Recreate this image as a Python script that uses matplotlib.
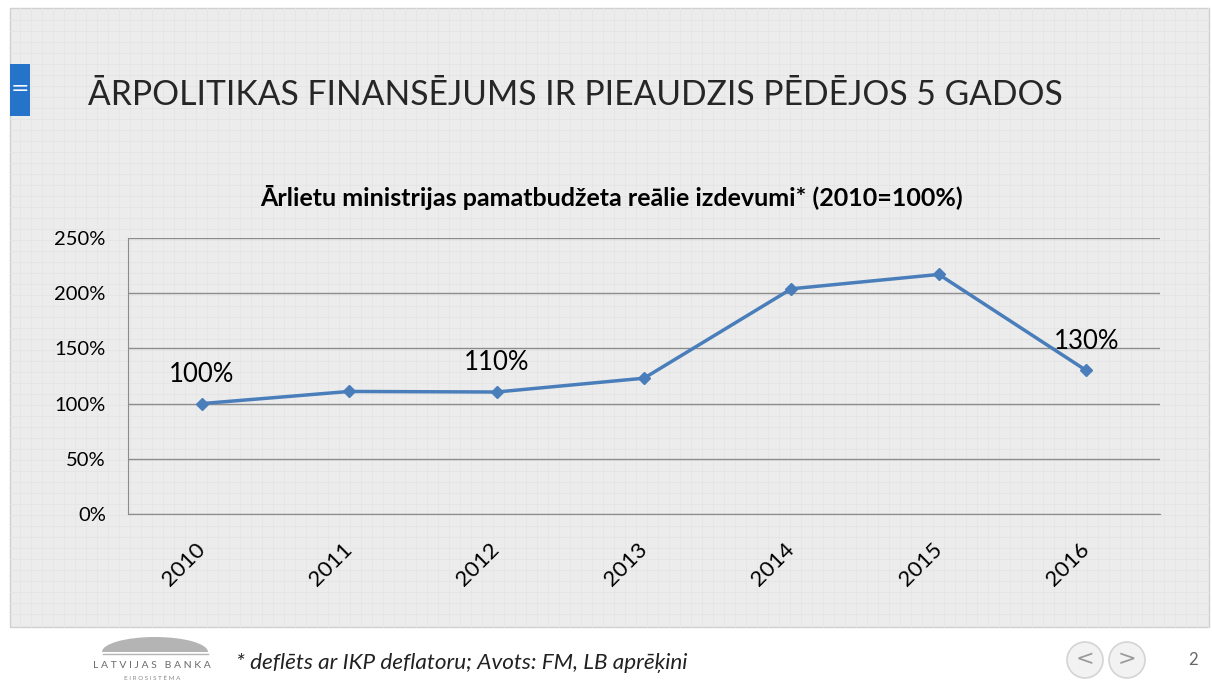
import matplotlib
matplotlib.use("Agg")
import matplotlib.pyplot as plt
import numpy as np
from matplotlib.patches import Rectangle, Circle, Ellipse

W, H = 1212, 686

years = ["2010", "2011", "2012", "2013", "2014", "2015", "2016"]
values = [100, 111, 110.5, 123, 204, 217, 130]
labels = {0: "100%", 2: "110%", 6: "130%"}
yticks = [0, 50, 100, 150, 200, 250]

title = "ĀRPOLITIKAS FINANSĒJUMS IR PIEAUDZIS PĒDĒJOS 5 GADOS"
chart_title = "Ārlietu ministrijas pamatbudžeta reālie izdevumi* (2010=100%)"
footnote = "* deflēts ar IKP deflatoru; Avots: FM, LB aprēķini"

plt.rcParams['font.family'] = ['Lato', 'DejaVu Sans']

fig = plt.figure(figsize=(W / 100, H / 100), dpi=100, facecolor="white")

# background overlay axes in pixel coordinates
bg = fig.add_axes([0, 0, 1, 1])
bg.set_xlim(0, W)
bg.set_ylim(H, 0)
bg.axis("off")
bg.add_patch(Rectangle((10, 8), 1199, 619, facecolor="#ececec", edgecolor="#d0d0d0", lw=1, zorder=0))
# faint graph-paper lines
for yy in np.arange(20, 625, 11):
    bg.plot([10, 1209], [yy, yy], color="#e4e4e4", lw=0.6, zorder=0.5)
for xx in np.arange(20, 1209, 11):
    bg.plot([xx, xx], [8, 627], color="#e6e6e6", lw=0.6, zorder=0.5)

# blue tab
bg.add_patch(Rectangle((10, 64), 20, 52, facecolor="#2574c9", edgecolor="none", zorder=2))
bg.text(20, 89, "=", color="white", fontsize=16, ha="center", va="center", zorder=3, family="DejaVu Sans")

# slide title
bg.text(88, 95, title, fontsize=24.2, color="#262626", ha="left", va="center", weight="normal", zorder=3)

# chart title
bg.text(611, 198, chart_title, fontsize=18, weight="bold", color="#000000", ha="center", va="center", zorder=3)

# footer: logo
bg.add_patch(Ellipse((155, 652), 106, 30, facecolor="#b4b4b4", edgecolor="none", zorder=2))
bg.add_patch(Rectangle((90, 652), 130, 20, facecolor="white", edgecolor="none", zorder=2.1))
bg.plot([103, 208], [654, 654], color="#b4b4b4", lw=1, zorder=2.2)
bg.text(152, 665, "L A T V I J A S   B A N K A", fontsize=7.5, color="#6a6a6a", ha="center", va="center", zorder=3)
bg.text(152, 679, "E I R O S I S T Ē M A", fontsize=4.5, color="#888888", ha="center", va="center", zorder=3)
bg.text(236, 663, footnote, fontsize=16.2, style="italic", color="#222222", ha="left", va="center", zorder=3)

# nav buttons
for cx, ch in [(1085, "<"), (1127, ">")]:
    bg.add_patch(Circle((cx, 660), 18, facecolor="#f2f2f2", edgecolor="#d4d4d4", lw=1.2, zorder=3))
    bg.text(cx, 659, ch, fontsize=16, color="#9a9a9a", ha="center", va="center", zorder=4, family="DejaVu Sans")
bg.text(1193, 660, "2", fontsize=12, color="#666666", ha="center", va="center", zorder=3)

# chart axes
x0, x1, y0, y1 = 128, 1160, 238, 514
ax = fig.add_axes([x0 / W, 1 - y1 / H, (x1 - x0) / W, (y1 - y0) / H])
ax.set_facecolor("none")
xpos = np.arange(len(years)) + 0.5
ax.plot(xpos, values, color="#4a7ebb", lw=2.5, marker="D", markersize=6.5, zorder=3)
for i, t in labels.items():
    ax.annotate(t, (xpos[i], values[i]), xytext=(0, 21), textcoords="offset points",
                ha="center", va="center", fontsize=18.5, color="#000000")
ax.set_xlim(0, len(years))
ax.set_ylim(0, 250)
ax.set_yticks(yticks)
ax.set_yticklabels([f"{v}%" for v in yticks], fontsize=14.5)
ax.set_xticks(xpos)
ax.set_xticklabels(years, rotation=45, fontsize=16, ha="right", va="center", rotation_mode="anchor")
ax.tick_params(axis="y", length=0, pad=16)
ax.tick_params(axis="x", length=0, pad=23)
ax.grid(axis="y", color="#8c8c8c", lw=1)
for s in ["top", "right"]:
    ax.spines[s].set_visible(False)
ax.spines["left"].set_color("#8c8c8c")
ax.spines["bottom"].set_color("#8c8c8c")
ax.set_axisbelow(True)

fig.savefig("out.png", dpi=100, facecolor="white")
